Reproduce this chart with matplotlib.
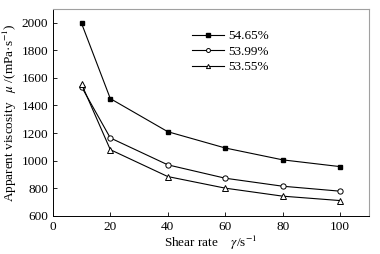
import matplotlib
matplotlib.use("Agg")
import matplotlib.pyplot as plt

# ─── data ────────────────────────────────────────────────────────
shear_rate = [10, 20, 40, 60, 80, 100]
visc_5465 = [1995, 1450, 1210, 1092, 1006, 957]
visc_5399 = [1535, 1165, 970, 873, 815, 779]
visc_5355 = [1555, 1080, 885, 801, 743, 711]
labels = ["54.65%", "53.99%", "53.55%"]

plt.rcParams["font.family"] = ["Liberation Serif", "DejaVu Serif"]
plt.rcParams["mathtext.fontset"] = "stix"

fig = plt.figure(figsize=(3.8, 2.54), dpi=100)
ax = fig.add_axes([0.139, 0.150, 0.832, 0.815])

ax.plot(shear_rate, visc_5465, "-s", color="black", lw=0.8, ms=3.5,
        mfc="black", label=labels[0])
ax.plot(shear_rate, visc_5399, "-o", color="black", lw=0.8, ms=3.8,
        mfc="white", mew=0.7, label=labels[1])
ax.plot(shear_rate, visc_5355, "-^", color="black", lw=0.8, ms=4,
        mfc="white", mew=0.7, label=labels[2])

ax.set_xlim(0, 110)
ax.set_ylim(600, 2100)
ax.set_xticks([0, 20, 40, 60, 80, 100])
ax.set_yticks(range(600, 2001, 200))
ax.tick_params(direction="in", labelsize=9.5, length=3, width=0.6,
               top=False, right=False)
for s in ("top", "right"):
    ax.spines[s].set_color("#a0a0a0")
for s in ("left", "bottom"):
    ax.spines[s].set_linewidth(0.7)

ax.set_xlabel(r"Shear rate    $\mathit{\gamma}$/s$^{-1}$", fontsize=9.5, labelpad=1)
ax.set_ylabel(r"Apparent viscosity   $\mathit{\mu}$ /(mPa·s$^{-1}$)",
              fontsize=9.5, labelpad=2)

ax.legend(loc="upper left", bbox_to_anchor=(0.42, 0.93), frameon=False,
          fontsize=9.5, handlelength=2.4, handletextpad=0.3, labelspacing=0.25,
          borderpad=0, markerscale=0.75)

fig.savefig("out.png", dpi=100)
